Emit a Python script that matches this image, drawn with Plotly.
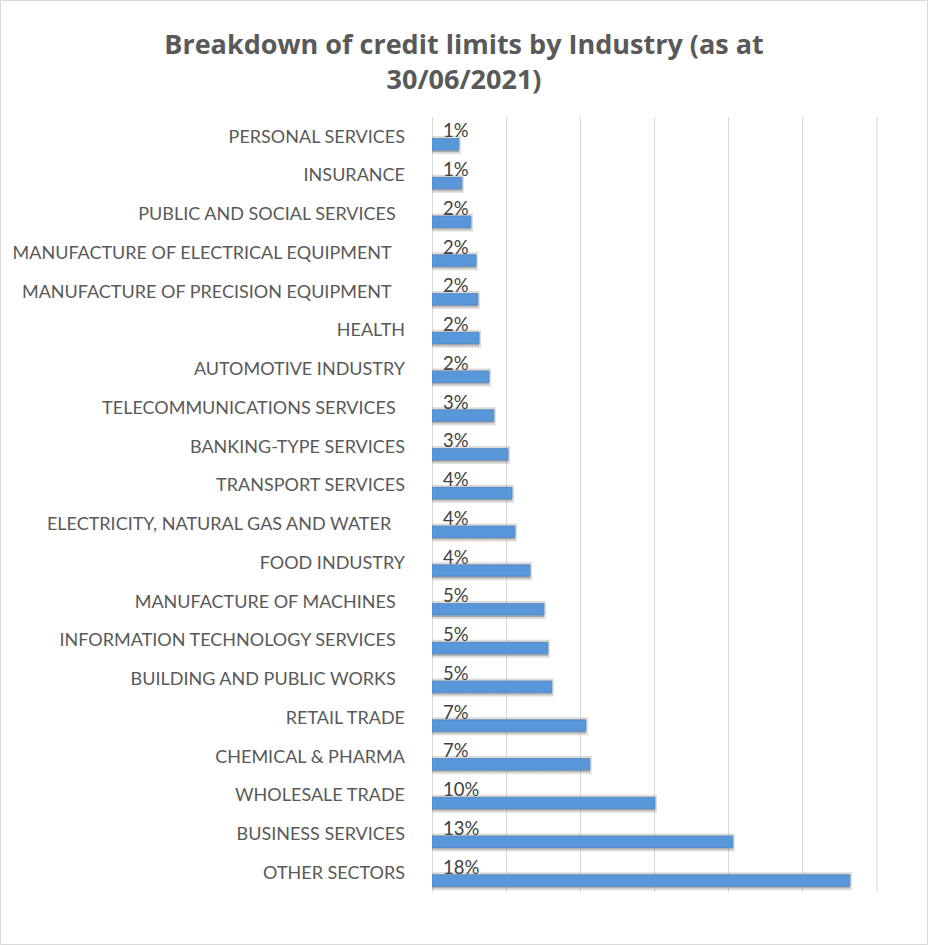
import plotly.graph_objects as go

NBSP = "\u00a0"
categories = [
    "PERSONAL SERVICES",
    "INSURANCE",
    "PUBLIC AND SOCIAL SERVICES" + NBSP * 2,
    "MANUFACTURE OF ELECTRICAL EQUIPMENT" + NBSP * 3,
    "MANUFACTURE OF PRECISION EQUIPMENT" + NBSP * 3,
    "HEALTH",
    "AUTOMOTIVE INDUSTRY",
    "TELECOMMUNICATIONS SERVICES" + NBSP * 2,
    "BANKING-TYPE SERVICES",
    "TRANSPORT SERVICES",
    "ELECTRICITY, NATURAL GAS AND WATER" + NBSP * 3,
    "FOOD INDUSTRY",
    "MANUFACTURE OF MACHINES" + NBSP * 2,
    "INFORMATION TECHNOLOGY SERVICES" + NBSP * 2,
    "BUILDING AND PUBLIC WORKS" + NBSP * 2,
    "RETAIL TRADE",
    "CHEMICAL & PHARMA",
    "WHOLESALE TRADE",
    "BUSINESS SERVICES",
    "OTHER SECTORS",
]
values = [1.16, 1.29, 1.68, 1.90, 1.98, 2.03, 2.46, 2.67, 3.28, 3.45,
          3.58, 4.23, 4.83, 5.00, 5.17, 6.64, 6.81, 9.62, 12.98, 18.03]
labels = ["1%", "1%", "2%", "2%", "2%", "2%", "2%", "3%", "3%", "4%",
          "4%", "4%", "5%", "5%", "5%", "7%", "7%", "10%", "13%", "18%"]
grid_step = 3.2
grid_max = 19.2

W, H = 928, 945
ML, MR, MT, MB = 432, 50, 117, 53

fig = go.Figure()

# soft dotted-looking shadow behind bars
fig.add_trace(go.Bar(
    y=categories, x=values, orientation="h",
    width=0.36, offset=0.045,
    marker=dict(color="rgba(100,100,100,0.35)",
                line=dict(color="rgba(140,140,140,0.30)", width=4),
                pattern=dict(shape=".", fgcolor="rgba(90,90,90,0.5)", size=3, solidity=0.5)),
    hoverinfo="skip", showlegend=False,
))
# main bars
fig.add_trace(go.Bar(
    y=categories, x=values, orientation="h",
    width=0.29, offset=0.06,
    marker=dict(color="#5898DA", line=dict(color="#4A88CC", width=0.8)),
    showlegend=False,
))

for cat, lab in zip(categories, labels):
    fig.add_annotation(
        x=0, y=cat, xref="x", yref="y", text=lab, showarrow=False,
        xanchor="left", yanchor="middle", xshift=9, yshift=6,
        font=dict(family="Lato, Open Sans, sans-serif", size=18.5, color="#404040"),
    )

# last vertical gridline (at the plot edge)
fig.add_shape(type="line", xref="x", yref="paper", x0=grid_max, x1=grid_max,
              y0=0, y1=1, line=dict(color="#D9D9D9", width=1), layer="below")

# chart border
pw, ph = W - ML - MR, H - MT - MB
fig.add_shape(type="rect", xref="paper", yref="paper",
              x0=(0.5 - ML) / pw, x1=(W - 0.5 - ML) / pw,
              y0=-(MB - 0.5) / ph, y1=1 + (MT - 0.5) / ph,
              line=dict(color="#D9D9D9", width=1), fillcolor="rgba(0,0,0,0)",
              layer="below")

fig.update_layout(
    width=W, height=H,
    margin=dict(l=ML, r=MR, t=MT, b=MB),
    paper_bgcolor="white", plot_bgcolor="white",
    barmode="overlay",
    title=dict(
        text="Breakdown of credit limits by Industry (as at<br>30/06/2021)",
        x=464 / W, xanchor="center", xref="container",
        y=1 - 53.5 / H, yanchor="middle", yref="container",
        font=dict(family="Open Sans, sans-serif", size=27, color="#595959",
                  weight="bold"),
    ),
    xaxis=dict(range=[0, 19.243], dtick=grid_step, tick0=0, showticklabels=False,
               showgrid=True, gridcolor="#D9D9D9", gridwidth=1,
               zeroline=True, zerolinecolor="#D9D9D9", zerolinewidth=1,
               showline=False, fixedrange=True),
    yaxis=dict(autorange="reversed", type="category",
               tickfont=dict(family="Lato, Open Sans, sans-serif", size=18, color="#595959"),
               ticks="", ticklen=0, showgrid=False, showline=False,
               ticklabelstandoff=26, fixedrange=True),
)

fig.write_html("out.html", config={"displayModeBar": False},
               post_script="document.body.style.margin='0';")
